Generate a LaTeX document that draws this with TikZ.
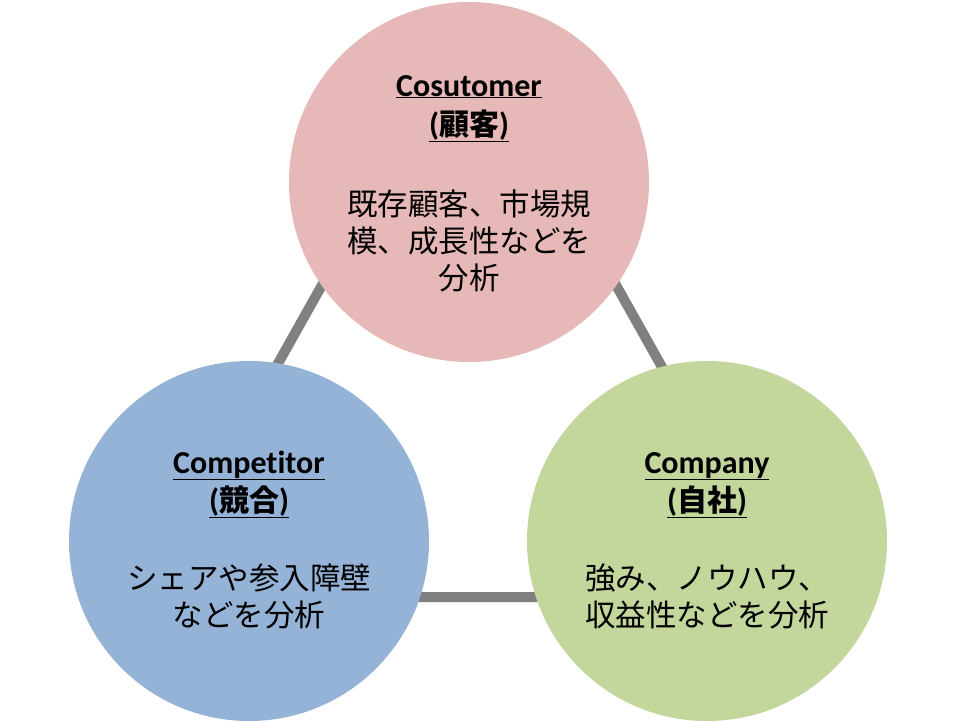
\documentclass[tikz,border=0pt]{standalone}
\usepackage{fontspec}
\setmainfont[Ligatures=NoCommon]{Carlito}
\newfontfamily\jp{Noto Sans CJK JP}
\definecolor{cpink}{HTML}{E6B9B8}
\definecolor{cblue}{HTML}{95B3D7}
\definecolor{cgreen}{HTML}{C3D69B}
\definecolor{cgray}{HTML}{808080}
\newcommand{\ttlline}[1]{\underline{#1}}
\begin{document}
\begin{tikzpicture}[x=1pt,y=-1pt,
  disc/.style={circle,minimum size=360pt,inner sep=0pt,draw=none},
  conn/.style={draw=cgray,line width=10pt,line join=miter},
  ttl/.style={font=\fontsize{32}{36}\selectfont\bfseries,inner sep=0pt,anchor=base},
  body/.style={font=\jp\fontsize{30.5}{37}\selectfont,inner sep=0pt,align=center}]
\fill[white] (0,0) rectangle (960,720);
\useasboundingbox (0,0) rectangle (960,720);
\coordinate (T) at (469,23);
\coordinate (L) at (147,597);
\coordinate (R) at (791,597);
\draw[conn] (T) -- (L) -- (R) -- cycle;
\node[disc,fill=cpink] (cust) at (469,182) {};
\node[disc,fill=cblue] (comp) at (249,541) {};
\node[disc,fill=cgreen] (firm) at (707,541) {};
% Customer
\node[ttl] (custA) at (469,96) {\ttlline{Cosutomer}};
\node[ttl] (custB) at (469,135) {\ttlline{(\jp\fontsize{30}{36}\selectfont\bfseries 顧客\normalfont\fontsize{32}{36}\selectfont\bfseries)}};
\node[body] (custC) at (469,241) {既存顧客、市場規\\模、成長性などを\\分析};
% Competitor
\node[ttl] (compA) at (249,473) {\ttlline{Competitor}};
\node[ttl] (compB) at (249,511) {\ttlline{(\jp\fontsize{30}{36}\selectfont\bfseries 競合\normalfont\fontsize{32}{36}\selectfont\bfseries)}};
\node[body] (compC) at (249,596) {シェアや参入障壁\\などを分析};
% Company
\node[ttl] (firmA) at (707,473) {\ttlline{Company}};
\node[ttl] (firmB) at (707,511) {\ttlline{(\jp\fontsize{30}{36}\selectfont\bfseries 自社\normalfont\fontsize{32}{36}\selectfont\bfseries)}};
\node[body] (firmC) at (707,596) {強み、ノウハウ、\\収益性などを分析};
\end{tikzpicture}
\end{document}
